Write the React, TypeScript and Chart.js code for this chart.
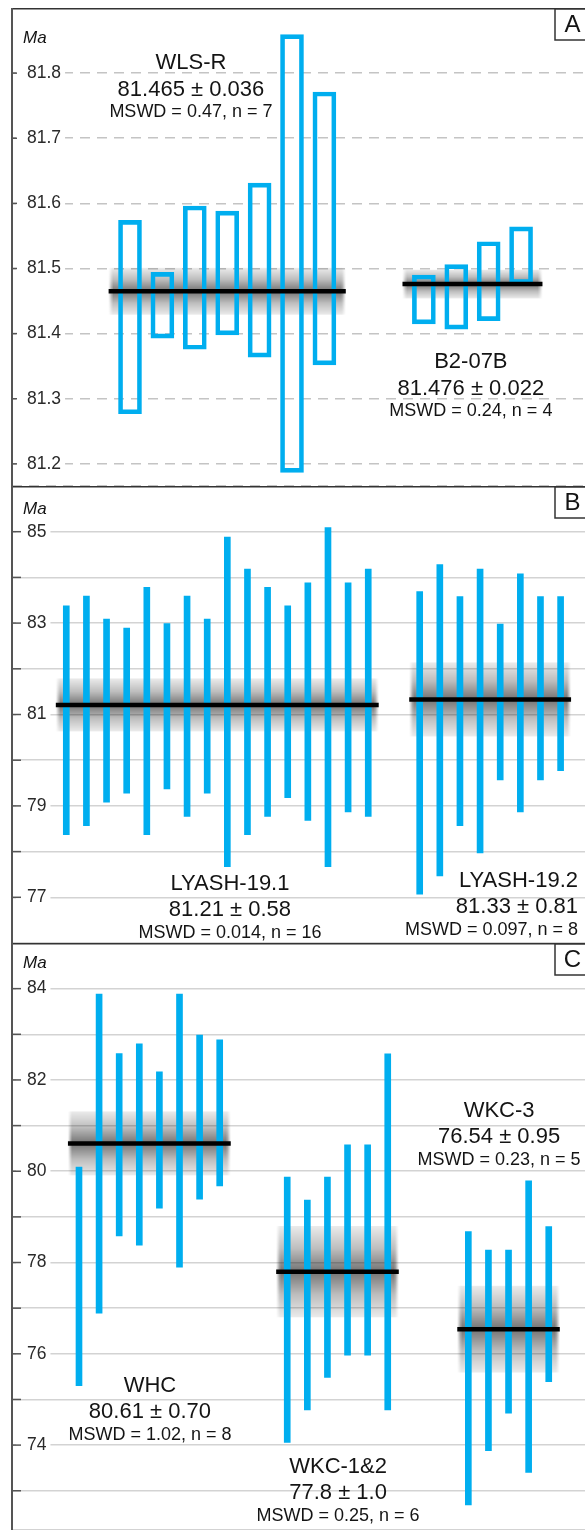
import React, { useEffect, useRef } from 'react';
import { Chart, registerables } from 'chart.js';

Chart.register(...registerables);

const FONT = '"Liberation Sans", Arial, Helvetica, sans-serif';
const BLUE = '#00AEEF';
const INK = '#141414';

// ---------------- Panel A (Ma) ----------------
const wlsrLow = [81.277, 81.393, 81.376, 81.398, 81.364, 81.187, 81.352];
const wlsrHigh = [81.574, 81.494, 81.596, 81.588, 81.631, 81.859, 81.771];
const b207bLow = [81.415, 81.407, 81.42, 81.477];
const b207bHigh = [81.49, 81.506, 81.541, 81.564];
const panelATickLabels = ['81.2', '81.3', '81.4', '81.5', '81.6', '81.7', '81.8'];

// ---------------- Panel B (Ma) ----------------
const lyash191Low = [78.37, 78.57, 79.08, 79.28, 78.37, 79.37, 78.77, 79.28, 77.67, 78.37, 78.77, 79.18, 78.68, 77.67, 78.87, 78.77];
const lyash191High = [83.38, 83.59, 83.09, 82.89, 83.78, 82.99, 83.59, 83.09, 84.88, 84.18, 83.78, 83.38, 83.88, 85.09, 83.88, 84.18];
const lyash192Low = [77.07, 77.47, 78.57, 77.97, 79.57, 78.87, 79.57, 79.77];
const lyash192High = [83.69, 84.28, 83.58, 84.18, 82.98, 84.08, 83.58, 83.58];
const panelBTickLabels = ['77', '79', '81', '83', '85'];

// ---------------- Panel C (Ma) ----------------
const whcLow = [75.3, 76.89, 78.58, 78.38, 79.19, 77.9, 79.39, 79.68];
const whcHigh = [80.09, 83.88, 82.58, 82.79, 82.18, 83.88, 82.98, 82.88];
const wkc12Low = [74.06, 74.77, 75.48, 75.97, 75.97, 74.77];
const wkc12High = [79.87, 79.37, 79.87, 80.58, 80.58, 82.57];
const wkc3Low = [72.69, 73.88, 74.7, 73.4, 75.39];
const wkc3High = [78.68, 78.27, 78.27, 79.79, 78.79];
const panelCTickLabels = ['74', '76', '78', '80', '82', '84'];

// weighted means and uncertainties
const groupNames = ['WLS-R', 'B2-07B', 'LYASH-19.1', 'LYASH-19.2', 'WHC', 'WKC-1&2', 'WKC-3'];
const groupMeans = [81.465, 81.476, 81.21, 81.33, 80.61, 77.8, 76.54];
const groupErrs = [0.036, 0.022, 0.58, 0.81, 0.70, 1.0, 0.95];
const groupMeanText = ['81.465 ± 0.036', '81.476 ± 0.022', '81.21 ± 0.58', '81.33 ± 0.81', '80.61 ± 0.70', '77.8 ± 1.0', '76.54 ± 0.95'];
const groupMswdText = ['MSWD = 0.47, n = 7', 'MSWD = 0.24, n = 4', 'MSWD = 0.014, n = 16', 'MSWD = 0.097, n = 8', 'MSWD = 1.02, n = 8', 'MSWD = 0.25, n = 6', 'MSWD = 0.23, n = 5'];

interface Group {
  idx: number;
  low: number[];
  high: number[];
  start: number;
  labelX: number;
  labelY: number;
  align: CanvasTextAlign;
}

interface PanelCfg {
  letter: string;
  top: number;
  height: number;
  yMin: number;
  yMax: number;
  step: number;
  decimals: number;
  xMin: number;
  xMax: number;
  tickLabels: string[];
  dashed: boolean;
  hollow: boolean;
  barThickness: number;
  lineExt: number;
  tickLen: number;
  maY: number;
  groups: Group[];
}

const CANVAS_W = 588;

const panels: PanelCfg[] = [
  {
    letter: 'A', top: 8, height: 478, yMin: 81.166, yMax: 81.9, step: 0.1, decimals: 1,
    xMin: -3.642, xMax: 14.043, tickLabels: panelATickLabels, dashed: true, hollow: true,
    barThickness: 23, lineExt: 0.66, tickLen: 5, maY: 35,
    groups: [
      { idx: 0, low: wlsrLow, high: wlsrHigh, start: 0, labelX: 1.88, labelY: 81.806, align: 'center' },
      { idx: 1, low: b207bLow, high: b207bHigh, start: 9.07, labelX: 10.52, labelY: 81.347, align: 'center' },
    ],
  },
  {
    letter: 'B', top: 486, height: 457, yMin: 76, yMax: 86, step: 1, decimals: 0,
    xMin: -2.697, xMax: 25.768, tickLabels: panelBTickLabels, dashed: false, hollow: false,
    barThickness: 6, lineExt: 0.52, tickLen: 9, maY: 28,
    groups: [
      { idx: 2, low: lyash191Low, high: lyash191High, start: 0, labelX: 8.13, labelY: 77.16, align: 'center' },
      { idx: 3, low: lyash192Low, high: lyash192High, start: 17.556, labelX: 25.42, labelY: 77.23, align: 'right' },
    ],
  },
  {
    letter: 'C', top: 943, height: 587, yMin: 72.14, yMax: 85, step: 1, decimals: 0,
    xMin: -3.333, xMax: 25.174, tickLabels: panelCTickLabels, dashed: false, hollow: false,
    barThickness: 6, lineExt: 0.55, tickLen: 9, maY: 25,
    groups: [
      { idx: 4, low: whcLow, high: whcHigh, start: 0, labelX: 3.53, labelY: 75.17, align: 'center' },
      { idx: 5, low: wkc12Low, high: wkc12High, start: 10.36, labelX: 12.89, labelY: 73.39, align: 'center' },
      { idx: 6, low: wkc3Low, high: wkc3High, start: 19.37, labelX: 20.9, labelY: 81.19, align: 'center' },
    ],
  },
];

function decorPlugin(p: PanelCfg) {
  return {
    id: 'decor' + p.letter,
    beforeDatasetsDraw(chart: any) {
      const { ctx, chartArea: a, scales } = chart;
      const xs = scales.x;
      const ys = scales.y;
      ctx.save();
      ctx.beginPath();
      ctx.rect(a.left, a.top, a.right - a.left, a.bottom - a.top);
      ctx.clip();
      for (const g of p.groups) {
        const mean = groupMeans[g.idx];
        const err = groupErrs[g.idx];
        const x0 = xs.getPixelForValue(g.start - p.lineExt);
        const x1 = xs.getPixelForValue(g.start + g.low.length - 1 + p.lineExt);
        const yt = ys.getPixelForValue(mean + err);
        const yb = ys.getPixelForValue(mean - err);
        const grad = ctx.createLinearGradient(0, yt, 0, yb);
        grad.addColorStop(0, 'rgba(0,0,0,0.08)');
        grad.addColorStop(0.25, 'rgba(0,0,0,0.26)');
        grad.addColorStop(0.5, 'rgba(0,0,0,0.55)');
        grad.addColorStop(0.75, 'rgba(0,0,0,0.26)');
        grad.addColorStop(1, 'rgba(0,0,0,0.08)');
        ctx.fillStyle = grad;
        const fade = 4;
        ctx.fillRect(x0 + fade, yt, x1 - x0 - 2 * fade, yb - yt);
        for (let k = 0; k < fade; k++) {
          ctx.globalAlpha = (k + 0.5) / fade;
          ctx.fillRect(x0 + k, yt, 1, yb - yt);
          ctx.fillRect(x1 - k - 1, yt, 1, yb - yt);
        }
        ctx.globalAlpha = 1;
      }
      ctx.restore();
    },
    afterDraw(chart: any) {
      const { ctx, chartArea: a, scales } = chart;
      const W = chart.width;
      const H = chart.height;
      const xs = scales.x;
      const ys = scales.y;
      ctx.save();
      // tick marks on the inside of the axis
      ctx.strokeStyle = '#555';
      ctx.lineWidth = 1.5;
      for (const t of ys.ticks) {
        const py = ys.getPixelForValue(t.value);
        if (py < a.top + 3 || py > a.bottom - 3) continue;
        ctx.beginPath();
        ctx.moveTo(a.left, py);
        ctx.lineTo(a.left + p.tickLen, py);
        ctx.stroke();
      }
      // frame: top border and axis line
      ctx.strokeStyle = '#333';
      ctx.lineWidth = 1.5;
      ctx.beginPath();
      ctx.moveTo(a.left, 0.75);
      ctx.lineTo(W, 0.75);
      ctx.stroke();
      ctx.strokeStyle = '#555';
      ctx.lineWidth = 2;
      ctx.beginPath();
      ctx.moveTo(a.left, 0);
      ctx.lineTo(a.left, H);
      ctx.stroke();
      // panel letter box
      ctx.strokeStyle = '#333';
      ctx.lineWidth = 1.5;
      ctx.strokeRect(W - 30, 0.75, 40, 31.25);
      ctx.fillStyle = INK;
      ctx.font = `24px ${FONT}`;
      ctx.textAlign = 'center';
      ctx.textBaseline = 'middle';
      ctx.fillText(p.letter, W - 12.5, 17);
      // axis unit
      ctx.font = `italic 17px ${FONT}`;
      ctx.textAlign = 'left';
      ctx.textBaseline = 'alphabetic';
      ctx.fillText('Ma', a.left + 11, p.maY);
      // group labels
      for (const g of p.groups) {
        const px = xs.getPixelForValue(g.labelX);
        const py = ys.getPixelForValue(g.labelY);
        ctx.textAlign = g.align;
        ctx.font = `22px ${FONT}`;
        ctx.fillText(groupNames[g.idx], px, py);
        ctx.fillText(groupMeanText[g.idx], px, py + 26.5);
        ctx.font = `18px ${FONT}`;
        ctx.fillText(groupMswdText[g.idx], px, py + 48);
      }
      ctx.restore();
    },
  };
}

function buildConfig(p: PanelCfg): any {
  const datasets: any[] = [];
  p.groups.forEach((g) => {
    datasets.push({
      type: 'bar',
      data: g.low.map((lo, i) => ({ x: g.start + i, y: [lo, g.high[i]] })),
      backgroundColor: p.hollow ? 'rgba(0,0,0,0)' : BLUE,
      borderColor: BLUE,
      borderWidth: p.hollow ? 4 : 0,
      borderSkipped: false,
      barThickness: p.barThickness,
      grouped: false,
      order: 2,
    });
    datasets.push({
      type: 'line',
      data: [
        { x: g.start - p.lineExt, y: groupMeans[g.idx] },
        { x: g.start + g.low.length - 1 + p.lineExt, y: groupMeans[g.idx] },
      ],
      borderColor: '#000',
      borderWidth: 4.5,
      pointRadius: 0,
      fill: false,
      order: 1,
    });
  });
  const f = Math.pow(10, p.decimals);
  return {
    type: 'bar',
    data: { datasets },
    options: {
      animation: false,
      responsive: false,
      events: [],
      layout: { padding: 0, autoPadding: false },
      plugins: {
        legend: { display: false },
        tooltip: { enabled: false },
        title: { display: false },
      },
      scales: {
        x: { type: 'linear', min: p.xMin, max: p.xMax, offset: false, display: false },
        y: {
          type: 'linear',
          position: 'left',
          min: p.yMin,
          max: p.yMax,
          afterFit: (s: any) => {
            s.width = 15;
            s.paddingTop = 0;
            s.paddingBottom = 0;
          },
          grid: { color: p.dashed ? '#c4c4c4' : '#d3d3d3', lineWidth: 1.5, drawTicks: false },
          border: { display: false, dash: p.dashed ? [10, 7] : [] },
          ticks: {
            stepSize: p.step,
            autoSkip: false,
            mirror: true,
            padding: 15,
            color: '#2a2a2a',
            font: { family: FONT, size: 17.5 },
            callback: (v: any) => {
              const n = Number(v);
              if (Math.abs(n * f - Math.round(n * f)) > 1e-6) return '';
              const s = n.toFixed(p.decimals);
              return p.tickLabels.includes(s) ? s : '';
            },
            showLabelBackdrop: (c: any) => !!(c.tick && c.tick.label),
            backdropColor: '#ffffff',
            backdropPadding: { top: 1, bottom: 1, left: 11, right: 4 },
          },
        },
      },
    },
    plugins: [decorPlugin(p)],
  };
}

function Panel({ cfg }: { cfg: PanelCfg }) {
  const ref = useRef<HTMLCanvasElement | null>(null);
  useEffect(() => {
    if (!ref.current) return;
    const chart = new Chart(ref.current, buildConfig(cfg));
    return () => chart.destroy();
  }, [cfg]);
  return (
    <canvas
      ref={ref}
      width={CANVAS_W}
      height={cfg.height}
      style={{ position: 'absolute', left: -3, top: cfg.top, width: CANVAS_W, height: cfg.height }}
    />
  );
}

export default function App() {
  return (
    <div
      style={{
        position: 'absolute',
        left: 0,
        top: 0,
        width: 585,
        height: 1530,
        overflow: 'hidden',
        background: '#ffffff',
      }}
    >
      {panels.map((p) => (
        <Panel key={p.letter} cfg={p} />
      ))}
    </div>
  );
}
